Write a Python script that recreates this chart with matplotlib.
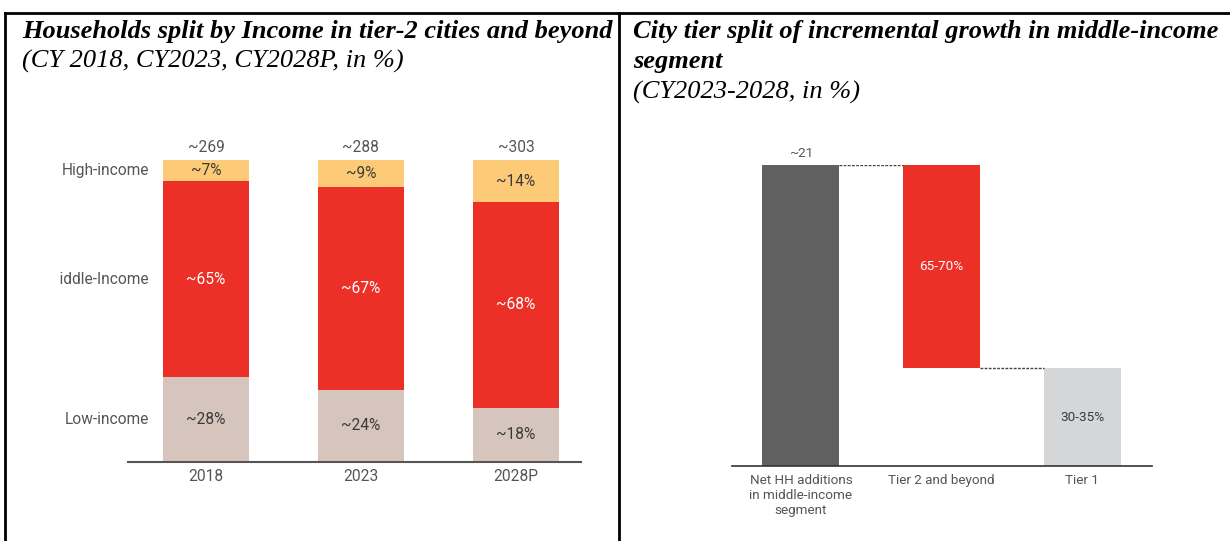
import matplotlib.pyplot as plt
from matplotlib.lines import Line2D
from matplotlib.transforms import Bbox

# ---- data ----
years = ['2018', '2023', '2028P']
totais = ['~269', '~288', '~303']
low_income = [28, 24, 18]
middle_income = [65, 67, 68]
high_income = [7, 9, 14]
segmentos = ['High-income', 'Middle-Income', 'Low-income']

tier_labels = ['Net HH additions\nin middle-income\nsegment', 'Tier 2 and beyond', 'Tier 1']
tier_share = [100, 67.5, 32.5]
tier_texts = ['~21', '65-70%', '30-35%']

W, H = 1230, 541
fig = plt.figure(figsize=(W / 100, H / 100), dpi=100)

def px_axes(x0, x1, ytop, ybot):
    return fig.add_axes([x0 / W, (H - ybot) / H, (x1 - x0) / W, (ybot - ytop) / H])

COR_TXT = '#555555'
FONTE = 'Roboto'
FS1 = 11.2   # left chart text
FS2 = 9.7    # right chart text
AMARELO = '#FDCA77'
VERMELHO = '#EC3028'
BEGE = '#D6C5BC'

# ---- borders and titles ----
fig.add_artist(Line2D([5 / W, 1], [1 - 13 / H, 1 - 13 / H], color='black', lw=2))
fig.add_artist(Line2D([5 / W, 5 / W], [0, 1 - 13 / H], color='black', lw=2))
fig.add_artist(Line2D([619 / W, 619 / W], [0, 1 - 13 / H], color='black', lw=2))

titulo = dict(family='Liberation Serif', fontsize=19, color='black', va='baseline')
fig.text(22 / W, 1 - 38 / H, 'Households split by Income in tier-2 cities and beyond',
         fontweight='bold', style='italic', **titulo)
fig.text(22 / W, 1 - 68 / H, '(CY 2018, CY2023, CY2028P, in %)', style='italic', **titulo)
fig.text(633 / W, 1 - 38 / H, 'City tier split of incremental growth in middle-income',
         fontweight='bold', style='italic', **titulo)
fig.text(633 / W, 1 - 68 / H, 'segment', fontweight='bold', style='italic', **titulo)
fig.text(633 / W, 1 - 99 / H, '(CY2023-2028, in %)', style='italic', **titulo)

# ---- left chart: stacked 100% bars ----
ax1 = px_axes(128, 581, 160, 462)
x = range(len(years))
largura = 0.555
ax1.bar(x, low_income, largura, color=BEGE)
ax1.bar(x, middle_income, largura, bottom=low_income, color=VERMELHO)
base_high = [l + m for l, m in zip(low_income, middle_income)]
ax1.bar(x, high_income, largura, bottom=base_high, color=AMARELO)

for i in x:
    ax1.text(i, low_income[i] / 2, f'~{low_income[i]}%', ha='center', va='center',
             color='#3a3a3a', family=FONTE, fontsize=FS1)
    ax1.text(i, low_income[i] + middle_income[i] / 2, f'~{middle_income[i]}%', ha='center',
             va='center', color='white', family=FONTE, fontsize=FS1)
    ax1.text(i, base_high[i] + high_income[i] / 2, f'~{high_income[i]}%', ha='center',
             va='center', color='#3a3a3a', family=FONTE, fontsize=FS1)
    ax1.text(i, 101.5, totais[i], ha='center', va='bottom', color=COR_TXT,
             family=FONTE, fontsize=FS1)

# row labels next to the first bar
centros = [base_high[0] + high_income[0] / 2,
           low_income[0] + middle_income[0] / 2,
           low_income[0] / 2]
for nome, yc in zip(segmentos, centros):
    t = ax1.text(-0.365, yc, nome, ha='right', va='center', color=COR_TXT,
                 family=FONTE, fontsize=FS1, clip_on=False)
    if nome == 'Middle-Income':
        t.set_clip_box(Bbox.from_extents(60, 0, W, H))
        t.set_clip_on(True)

ax1.set_xlim(-0.503, 2.42)
ax1.set_ylim(0, 100)
ax1.set_xticks(list(x), years, family=FONTE, fontsize=FS1, color=COR_TXT)
ax1.tick_params(axis='x', length=0, pad=5)
ax1.set_yticks([])
for lado in ['top', 'right', 'left']:
    ax1.spines[lado].set_visible(False)
ax1.spines['bottom'].set_color('#555555')
ax1.spines['bottom'].set_linewidth(1.5)

# ---- right chart: waterfall ----
ax2 = px_axes(732, 1152, 165, 466)
xt = range(len(tier_labels))
largura2 = 0.548
bases = [0, tier_share[0] - tier_share[1], 0]
cores = ['#606060', VERMELHO, '#D5D6D8']
ax2.bar(xt, tier_share, largura2, bottom=bases, color=cores)

# dotted connectors
ax2.plot([largura2 / 2, 1 - largura2 / 2], [tier_share[0], tier_share[0]],
         color='#444444', lw=1, ls=(0, (2, 1)))
ax2.plot([1 + largura2 / 2, 2 - largura2 / 2], [bases[1], bases[1]],
         color='#444444', lw=1, ls=(0, (2, 1)))

ax2.text(0, tier_share[0] + 1.5, tier_texts[0], ha='center', va='bottom',
         color=COR_TXT, family=FONTE, fontsize=FS2)
ax2.text(1, bases[1] + tier_share[1] / 2, tier_texts[1], ha='center', va='center',
         color='white', family=FONTE, fontsize=FS2)
ax2.text(2, tier_share[2] / 2, tier_texts[2], ha='center', va='center',
         color='#3a3a3a', family=FONTE, fontsize=FS2)

ax2.set_xlim(-0.491, 2.498)
ax2.set_ylim(0, 100)
ax2.set_xticks(list(xt), tier_labels, family=FONTE, fontsize=FS2, color=COR_TXT,
               linespacing=1.2, va='top')
ax2.tick_params(axis='x', length=0, pad=6)
ax2.set_yticks([])
for lado in ['top', 'right', 'left']:
    ax2.spines[lado].set_visible(False)
ax2.spines['bottom'].set_color('#333333')
ax2.spines['bottom'].set_linewidth(1.2)

fig.savefig('out.png', dpi=100)
